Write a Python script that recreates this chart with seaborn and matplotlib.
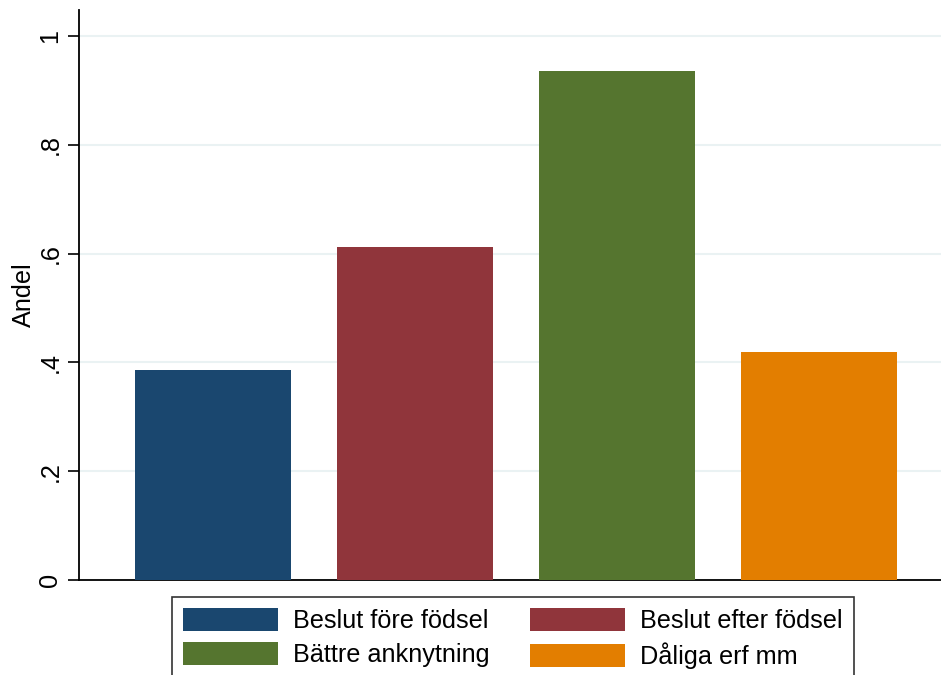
"""Stata-style bar chart of shares (Andel) per category."""

import matplotlib

matplotlib.use("Agg")
import matplotlib.pyplot as plt
import pandas as pd
import seaborn as sns
from matplotlib.patches import Patch

CATEGORIES = ["Beslut före födsel", "Beslut efter födsel", "Bättre anknytning", "Dåliga erf mm"]
SHARES = [0.387, 0.612, 0.936, 0.419]
COLORS = ["#1a476f", "#90353b", "#55752f", "#e37e00"]
YTICKS = [0, 0.2, 0.4, 0.6, 0.8, 1.0]
YTICK_LABELS = ["0", ".2", ".4", ".6", ".8", "1"]

FONT = 18.2


def main() -> None:
    sns.set_theme(style="white")
    plt.rcParams["font.family"] = ["Liberation Sans", "DejaVu Sans"]
    plt.rcParams["text.color"] = "black"
    plt.rcParams["axes.labelcolor"] = "black"
    plt.rcParams["ytick.color"] = "black"

    df = pd.DataFrame({"cat": CATEGORIES, "share": SHARES})

    fig = plt.figure(figsize=(9.41, 6.75), dpi=100)
    ax = fig.add_axes([79 / 941, 95 / 675, 862 / 941, 570 / 675])

    sns.barplot(
        data=df, x="cat", y="share", hue="cat", palette=COLORS,
        width=0.772, legend=False, saturation=1, linewidth=0,
        ax=ax, zorder=3,
    )

    ax.set_xlim(-0.663, 3.604)
    ax.set_ylim(0, 1.048)
    ax.set_yticks(YTICKS)
    ax.set_yticklabels(YTICK_LABELS, rotation=90, va="center", fontsize=FONT)
    ax.set_xticks([])
    ax.set_xlabel("")
    ax.set_ylabel("Andel", fontsize=FONT, labelpad=2)
    ax.tick_params(axis="y", direction="out", length=8, width=1.2, color="black",
                   labelcolor="black", left=True, pad=4)
    ax.yaxis.grid(True, color="#eaf2f3", linewidth=1.5, zorder=0)
    ax.set_axisbelow(True)

    for side in ("top", "right"):
        ax.spines[side].set_visible(False)
    for side in ("left", "bottom"):
        ax.spines[side].set_color("black")
        ax.spines[side].set_linewidth(1.3)

    # legend fills column-wise, so reorder to read row by row like the reference
    order = [0, 2, 1, 3]
    handles = [Patch(facecolor=COLORS[i], edgecolor="none", label=CATEGORIES[i]) for i in order]
    leg = fig.legend(
        handles=handles, ncol=2, loc="upper left",
        bbox_to_anchor=(172 / 941, 1 - 597 / 675), borderaxespad=0,
        fontsize=FONT, frameon=True, fancybox=False,
        handlelength=3.75, handleheight=1.0, handletextpad=0.6,
        columnspacing=1.58, labelspacing=0.35, borderpad=0.45,
    )
    leg.get_frame().set_edgecolor("black")
    leg.get_frame().set_linewidth(1.2)

    fig.savefig("out.png", dpi=100)
    plt.close(fig)


if __name__ == "__main__":
    main()
